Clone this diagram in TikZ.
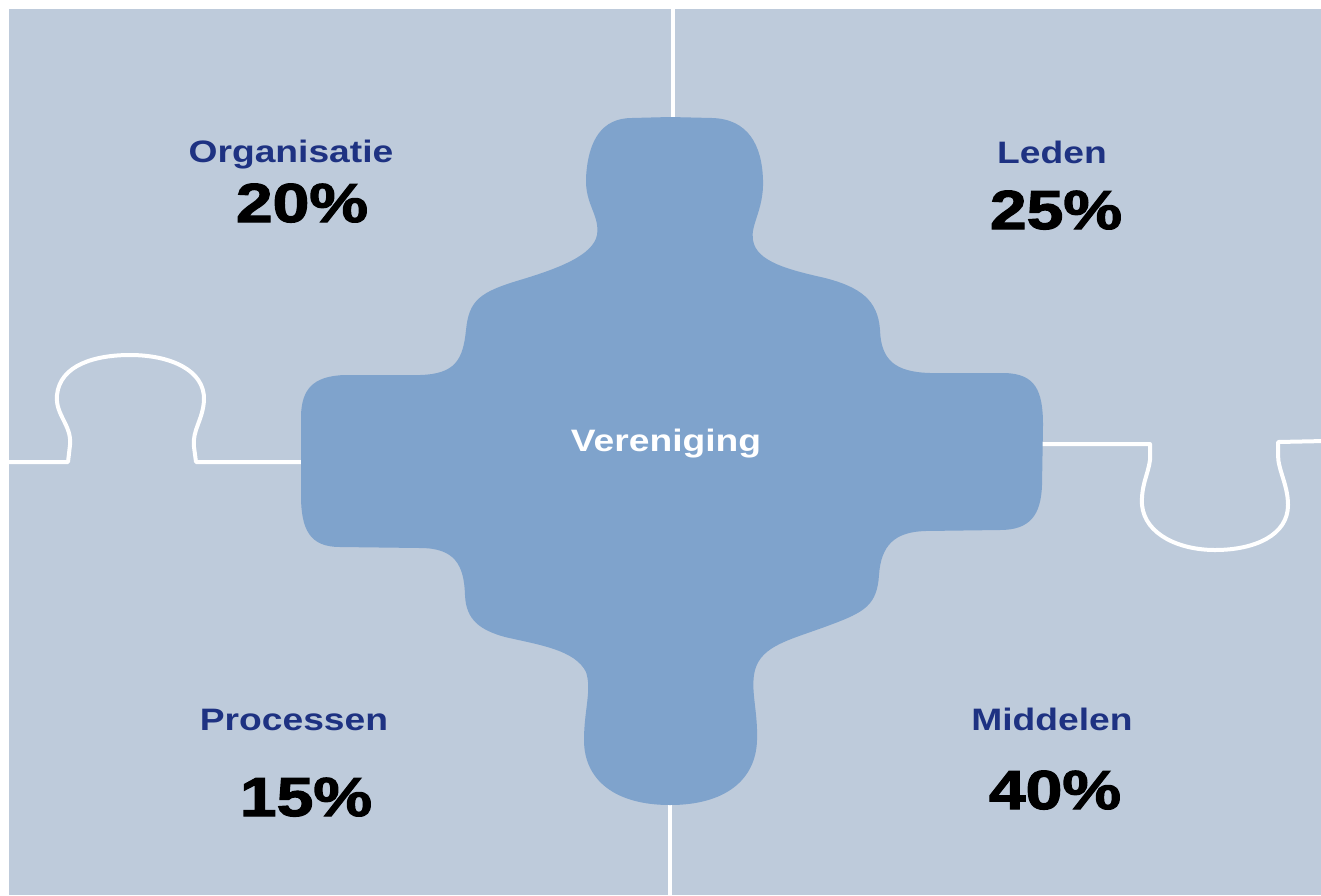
\documentclass[tikz,border=0pt]{standalone}
\usepackage{fontspec}
\setmainfont{Liberation Sans}
\newfontfamily\heavyfont[FakeBold=2]{Liberation Sans Bold}
\definecolor{bgblue}{HTML}{BECBDB}
\definecolor{pieceblue}{HTML}{7FA3CC}
\definecolor{navy}{HTML}{1E3282}
\begin{document}
\begin{tikzpicture}[x=1pt, y=-1pt,
    seam/.style = {draw=white, line width=4pt, line join=round, line cap=round},
    lbl/.style = {text=navy, font=\fontsize{31}{31}\selectfont\bfseries, anchor=base, inner sep=0pt, xscale=1.2},
    pct/.style = {text=black, font=\fontsize{55}{55}\selectfont\heavyfont, anchor=base, inner sep=0pt, xscale=1.2}]
    \useasboundingbox (0,0) rectangle (1321,895);
    \fill[white] (0,0) rectangle (1321,895);
    \fill[bgblue] (9,9) rectangle (1321,895);

    % seams between the pieces
    \draw[seam] (9,462) -- (68,462) -- (70,445) .. controls (72,425) and (55,415) .. (57,395)
        .. controls (60,365) and (95,355) .. (130,355) .. controls (170,355) and (205,370) .. (204,400)
        .. controls (203,420) and (192,430) .. (194,447) -- (196,462) -- (320,462);
    \draw[seam] (1030,444) -- (1150,444) -- (1150,460) .. controls (1148,475) and (1141,485) .. (1142,505)
        .. controls (1145,535) and (1180,550) .. (1215,550) .. controls (1255,550) and (1288,535) .. (1288,505)
        .. controls (1288,485) and (1278,470) .. (1278,455) -- (1278,442) -- (1325,441);
    \draw[seam] (673,5) -- (673,130);
    \draw[seam] (670,790) -- (670,900);

    % centre piece
    \fill[pieceblue] (670,117) -- (712,118) .. controls (748,119) and (762,145) .. (763,180)
        .. controls (764,210) and (750,225) .. (753,240)
        .. controls (756,262) and (790,270) .. (825,278)
        .. controls (860,287) and (878,300) .. (880,330)
        .. controls (881,360) and (895,372) .. (930,373)
        -- (1005,373) .. controls (1035,374) and (1043,390) .. (1043,425)
        -- (1042,485) .. controls (1041,515) and (1030,530) .. (1000,530)
        -- (925,531) .. controls (895,532) and (881,545) .. (879,575)
        .. controls (877,605) and (865,612) .. (830,625)
        .. controls (790,640) and (762,645) .. (755,670)
        .. controls (750,690) and (758,710) .. (757,740)
        .. controls (756,780) and (725,805) .. (670,805)
        .. controls (615,805) and (584,780) .. (584,740)
        .. controls (584,710) and (592,690) .. (586,672)
        .. controls (575,650) and (540,645) .. (505,637)
        .. controls (480,630) and (466,620) .. (465,595)
        .. controls (464,565) and (455,548) .. (420,548)
        -- (340,547) .. controls (310,547) and (301,530) .. (301,495)
        -- (301,415) .. controls (302,390) and (312,376) .. (345,375)
        -- (420,375) .. controls (455,374) and (463,360) .. (466,330)
        .. controls (469,300) and (480,292) .. (520,280)
        .. controls (560,268) and (593,255) .. (597,235)
        .. controls (600,215) and (585,205) .. (586,178)
        .. controls (588,140) and (602,118) .. (632,118) -- cycle;

    \node[lbl, text=white] (ver) at (666,451) {Vereniging};

    \node[lbl] (org) at (291,162) {Organisatie};
    \node[pct] (orgpct) at (302,222) {20\%};
    \node[lbl] (led) at (1052,163) {Leden};
    \node[pct] (ledpct) at (1056,229) {25\%};
    \node[lbl] (proc) at (294,730) {Processen};
    \node[pct] (procpct) at (306,816) {15\%};
    \node[lbl] (mid) at (1052,730) {Middelen};
    \node[pct] (midpct) at (1055,809) {40\%};
\end{tikzpicture}
\end{document}
